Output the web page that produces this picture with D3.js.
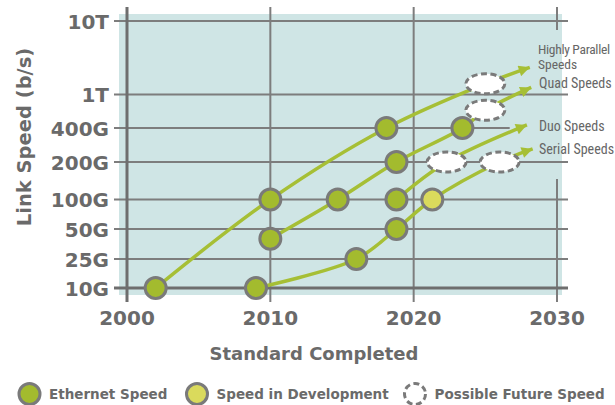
<!DOCTYPE html>
<html><head><meta charset="utf-8">
<script src="https://cdn.jsdelivr.net/npm/d3@7"></script>
<style>
html,body{margin:0;padding:0;background:#fff;}
svg{display:block;}
</style></head>
<body>
<svg id="c" width="615" height="405"></svg>
<script>
// ---- data ----
const yTickValues = [10, 25, 50, 100, 200, 400, 1000, 10000];   // in Gb/s
const yTickLabels = ["10G", "25G", "50G", "100G", "200G", "400G", "1T", "10T"];
const xTickValues = [2000, 2010, 2020, 2030];

const ethernetYears  = [2002, 2009, 2010, 2010, 2014.7, 2016, 2018.1, 2018.8, 2018.8, 2018.8, 2023.4];
const ethernetSpeeds = [10,   10,   100,  40,   100,    25,   400,    200,    100,    50,     400];
const devYears  = [2021.3];
const devSpeeds = [100];
const futureYears  = [2025, 2025, 2022.3, 2026];
const futureSpeeds = [1400, 650,  200,    200];

const seriesNames = ["Highly Parallel Speeds", "Quad Speeds", "Duo Speeds", "Serial Speeds"];
const hpYears  = [2002, 2010, 2018.1, 2025, 2028.1];
const hpSpeeds = [10,   100,  400,    1400, 2340];
const quadYears  = [2010, 2014.7, 2018.8, 2023.4, 2025, 2028.2];
const quadSpeeds = [40,   100,    200,    400,    650,  1250];
const duoYears  = [2018.8, 2022.3, 2027.9];
const duoSpeeds = [100,    200,    435];
const serialYears  = [2009, 2016, 2018.8, 2021.3, 2026, 2028.3];
const serialSpeeds = [10,   25,   50,     100,    200,  261];

const legendLabels = ["Ethernet Speed", "Speed in Development", "Possible Future Speed"];

// ---- styles ----
const C = {
  bg: "#cfe5e5", grid: "#7d7d7d", axis: "#6e6e6e", text: "#6a6a6a",
  line: "#a6bf35", point: "#a3bb2e", dev: "#dada5c", pstroke: "#7a7a7a"
};
const svg = d3.select("#c");

const x = d3.scaleLinear().domain([2000, 2030]).range([127, 557]);
const y = d3.scaleLog().domain(yTickValues).range([288, 259, 229, 199.5, 162, 128, 94.5, 21]);

const gTop = 7, gBottom = 302, gLeft = 114, gRight = 568;

// background
svg.append("rect").attr("x", 119).attr("y", 14).attr("width", 443).attr("height", 281).attr("fill", C.bg);

// vertical grid lines (2010, 2020, 2030)
const vg = svg.append("g");
xTickValues.slice(1).forEach(v => {
  if (v === 2030) {
    vg.append("line").attr("x1", x(v)).attr("x2", x(v)).attr("y1", gTop).attr("y2", y(10000) + 9)
      .attr("stroke", C.grid).attr("stroke-width", 2);
    vg.append("line").attr("x1", x(v)).attr("x2", x(v)).attr("y1", y(200) + 17).attr("y2", gBottom)
      .attr("stroke", C.grid).attr("stroke-width", 2);
  } else {
    vg.append("line").attr("x1", x(v)).attr("x2", x(v)).attr("y1", gTop).attr("y2", gBottom)
      .attr("stroke", C.grid).attr("stroke-width", 2);
  }
});

// horizontal grid lines
svg.append("g").selectAll("line").data(yTickValues.slice(1)).join("line")
  .attr("x1", gLeft).attr("x2", d => d === 400 ? x(2026.7) : gRight)
  .attr("y1", d => y(d)).attr("y2", d => y(d))
  .attr("stroke", C.grid).attr("stroke-width", 2);

// axes lines
svg.append("line").attr("x1", x(2000)).attr("x2", x(2000)).attr("y1", gTop).attr("y2", gBottom)
  .attr("stroke", C.axis).attr("stroke-width", 3);
svg.append("line").attr("x1", gLeft).attr("x2", gRight).attr("y1", y(10)).attr("y2", y(10))
  .attr("stroke", C.axis).attr("stroke-width", 3);

// tick labels
svg.append("g").selectAll("text").data(yTickValues).join("text")
  .attr("x", 109).attr("y", d => y(d) + 7.5).attr("text-anchor", "end")
  .attr("font-family", "DejaVu Sans").attr("font-weight", "bold").attr("font-size", 20)
  .attr("fill", C.text).text((d, i) => yTickLabels[i]);
svg.append("g").selectAll("text").data(xTickValues).join("text")
  .attr("x", d => x(d)).attr("y", 325).attr("text-anchor", "middle")
  .attr("font-family", "DejaVu Sans").attr("font-weight", "bold").attr("font-size", 20)
  .attr("fill", C.text).text(d => d);

// axis titles
svg.append("text").attr("transform", "translate(31,137) rotate(-90)").attr("text-anchor", "middle")
  .attr("font-family", "DejaVu Sans").attr("font-weight", "bold").attr("font-size", 19.5)
  .attr("fill", C.text).text("Link Speed (b/s)");
svg.append("text").attr("x", 314).attr("y", 360).attr("text-anchor", "middle")
  .attr("font-family", "DejaVu Sans").attr("font-weight", "bold").attr("font-size", 18)
  .attr("fill", C.text).text("Standard Completed");

// arrow marker
svg.append("defs").append("marker").attr("id", "arr")
  .attr("viewBox", "0 0 10 10").attr("refX", 10).attr("refY", 5)
  .attr("markerWidth", 14).attr("markerHeight", 11).attr("markerUnits", "userSpaceOnUse")
  .attr("orient", "auto")
  .append("path").attr("d", "M0,0 L10,5 L0,10 Z").attr("fill", C.line);

const line = d3.line().x(d => x(d[0])).y(d => y(d[1])).curve(d3.curveCatmullRom.alpha(0.5));
const seriesData = [
  d3.zip(hpYears, hpSpeeds), d3.zip(quadYears, quadSpeeds),
  d3.zip(duoYears, duoSpeeds), d3.zip(serialYears, serialSpeeds)
];
svg.append("g").selectAll("path").data(seriesData).join("path")
  .attr("d", line).attr("fill", "none").attr("stroke", C.line).attr("stroke-width", 3.5)
  .attr("marker-end", "url(#arr)");

// future ellipses
svg.append("g").selectAll("ellipse").data(d3.zip(futureYears, futureSpeeds)).join("ellipse")
  .attr("cx", d => x(d[0])).attr("cy", d => y(d[1])).attr("rx", 19.5).attr("ry", 10)
  .attr("fill", "#fff").attr("stroke", C.pstroke).attr("stroke-width", 3).attr("stroke-dasharray", "6,3.5");

// points
svg.append("g").selectAll("circle").data(d3.zip(ethernetYears, ethernetSpeeds)).join("circle")
  .attr("cx", d => x(d[0])).attr("cy", d => y(d[1])).attr("r", 10.5)
  .attr("fill", C.point).attr("stroke", C.pstroke).attr("stroke-width", 3);
svg.append("g").selectAll("circle").data(d3.zip(devYears, devSpeeds)).join("circle")
  .attr("cx", d => x(d[0])).attr("cy", d => y(d[1])).attr("r", 10.5)
  .attr("fill", C.dev).attr("stroke", C.pstroke).attr("stroke-width", 3);

// series labels
const lab = svg.append("g").attr("font-family", "'Liberation Sans Narrow', 'Roboto Condensed', 'Liberation Sans'")
  .attr("font-size", 14).attr("fill", "#666666");
const labelY = [54, 88, 131, 154];
seriesNames.forEach((n, i) => {
  if (i === 0) {
    const t = lab.append("text").attr("x", 538).attr("y", labelY[i]).attr("font-size", 13.5);
    t.append("tspan").attr("x", 538).attr("letter-spacing", -0.3).text("Highly Parallel");
    t.append("tspan").attr("x", 538).attr("dy", 15).text("Speeds");
  } else {
    lab.append("text").attr("x", 539).attr("y", labelY[i]).text(n);
  }
});

// legend
const lg = svg.append("g").attr("font-family", "DejaVu Sans").attr("font-weight", "bold")
  .attr("font-size", 13.5).attr("fill", C.text);
const legX = [29.5, 197, 415];
const legFill = [C.point, C.dev, "#fff"];
legendLabels.forEach((t, i) => {
  const c = lg.append("circle").attr("cx", legX[i]).attr("cy", 394).attr("r", 10.5)
    .attr("fill", legFill[i]).attr("stroke", C.pstroke).attr("stroke-width", 3);
  if (i === 2) c.attr("stroke-dasharray", "6,3.5");
  lg.append("text").attr("x", legX[i] + 19.5).attr("y", 399).text(t);
});
</script>
</body></html>
